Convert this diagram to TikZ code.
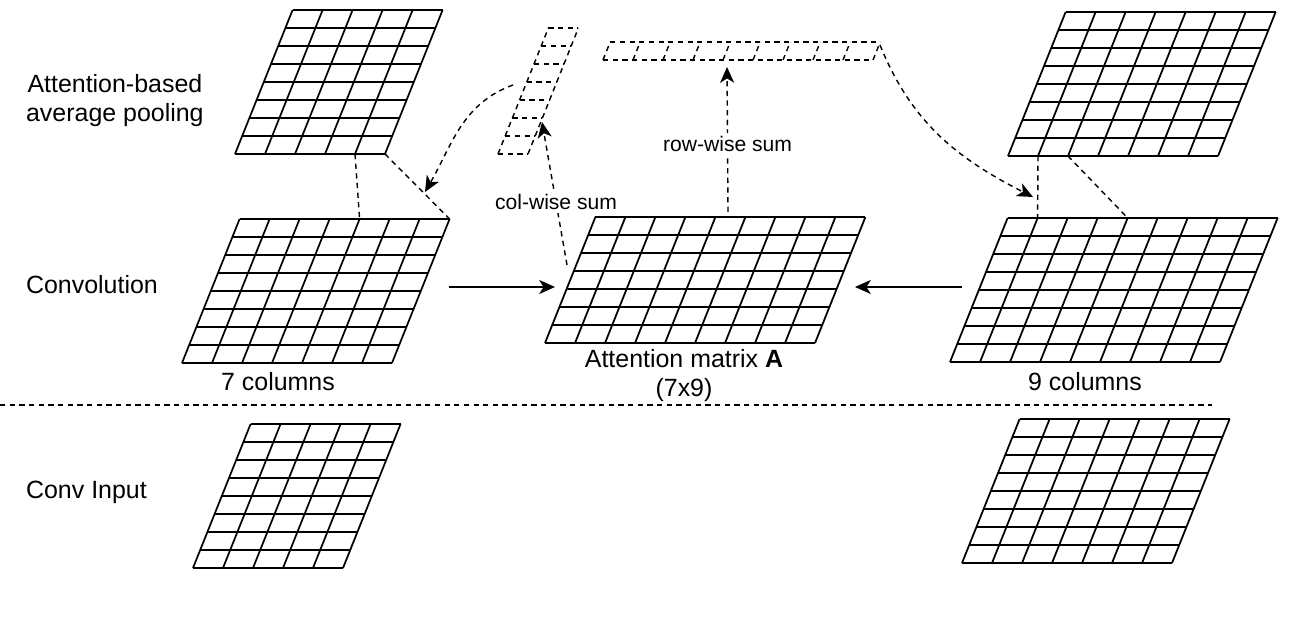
\documentclass[tikz,border=0pt]{standalone}
\usepackage{fontspec}
\setmainfont{Liberation Sans}
\usetikzlibrary{arrows.meta}

\tikzset{
  gridline/.style={line width=1pt},
  dashgrid/.style={line width=0.8pt, dash pattern=on 3pt off 2.5pt},
  link/.style={line width=0.8pt, dash pattern=on 3pt off 2.5pt},
  flow/.style={line width=0.9pt, -{Stealth[length=9pt,width=8pt,inset=2.5pt]}},
  sumflow/.style={link, -{Stealth[length=9pt,width=8pt,inset=2.5pt]}},
  lbl/.style={font=\fontsize{14.2}{16.5}\selectfont, inner sep=1pt},
  smalllbl/.style={font=\fontsize{12}{14}\selectfont, fill=white, inner sep=2pt},
}

% slanted grid: [style]{name}{lower-left corner}{columns}{rows}
\newcommand{\slantgrid}[5][gridline]{%
  \begin{scope}[shift={#3}, xslant=0.4]
    \foreach \ci in {0,...,#4} {
      \draw[#1] (\ci*30,0) -- (\ci*30,#5*18);
      \coordinate (#2-b\ci) at (\ci*30,0);
      \coordinate (#2-t\ci) at (\ci*30,#5*18);
    }
    \foreach \ri in {0,...,#5}
      \draw[#1] (0,\ri*18) -- (#4*30,\ri*18);
  \end{scope}}

\begin{document}
\begin{tikzpicture}[x=0.02cm, y=0.02cm]
    \useasboundingbox (0,0) rectangle (1290,624);

    % Grids
    \slantgrid{pool7}{(235,470)}{5}{8}
    \slantgrid{pool9}{(1008,468)}{7}{8}
    \slantgrid{conv7}{(182,261)}{7}{8}
    \slantgrid{conv9}{(950,262)}{9}{8}
    \slantgrid{att}{(545,281)}{9}{7}
    \slantgrid{in7}{(193,56)}{5}{8}
    \slantgrid{in9}{(962,61)}{7}{8}
    \slantgrid[dashgrid]{colv}{(498,470)}{1}{7}
    \slantgrid[dashgrid]{rowv}{(603,564)}{9}{1}

    % Labels
    \node[lbl, align=center, anchor=west] (pool-lbl) at (24,523) {Attention-based\\average pooling};
    \node[lbl, anchor=west] (conv-lbl) at (24,339) {Convolution};
    \node[lbl, anchor=west] (input-lbl) at (24,132) {Conv Input};
    \node[lbl] (cols7-lbl) at (278,242) {7 columns};
    \node[lbl] (cols9-lbl) at (1085,242) {9 columns};
    \node[lbl, align=center] (att-lbl) at (684,248) {Attention matrix \textbf{A}\\(7x9)};

    % Arrow ends
    \coordinate (conv7-out) at (449,337);
    \coordinate (att-inl) at (555,337);
    \coordinate (conv9-out) at (962,337);
    \coordinate (att-inr) at (855,337);
    \coordinate (att-cw) at (567,359);
    \coordinate (colv-in) at (542,502);
    \coordinate (att-rw) at (728,412);
    \coordinate (rowv-in) at (727,557);
    \coordinate (colv-out) at (513,539);
    \coordinate (pool7-in) at (425,432);
    \coordinate (rowv-out) at (880,579);
    \coordinate (pool9-in) at (1033,427);
    \coordinate (sep-l) at (0,219);
    \coordinate (sep-r) at (1212,219);

    % Draw arrows
    \draw[flow] (conv7-out) -- (att-inl);
    \draw[flow] (conv9-out) -- (att-inr);
    \draw[sumflow] (att-cw) -- node[smalllbl, pos=0.44] (cw-lbl) {col-wise sum} (colv-in);
    \draw[sumflow] (att-rw) -- node[smalllbl, pos=0.47] (rw-lbl) {row-wise sum} (rowv-in);
    \draw[sumflow] (colv-out) to[out=200, in=60] (pool7-in);
    \draw[sumflow] (rowv-out) to[out=-68, in=153] (pool9-in);

    % Pooling links
    \draw[link] (pool7-b4) -- (conv7-t4);
    \draw[link] (pool7-b5) -- (conv7-t7);
    \draw[link] (pool9-b1) -- (conv9-t1);
    \draw[link] (pool9-b2) -- (conv9-t4);

    % Separator
    \draw[link] (sep-l) -- (sep-r);
\end{tikzpicture}
\end{document}
